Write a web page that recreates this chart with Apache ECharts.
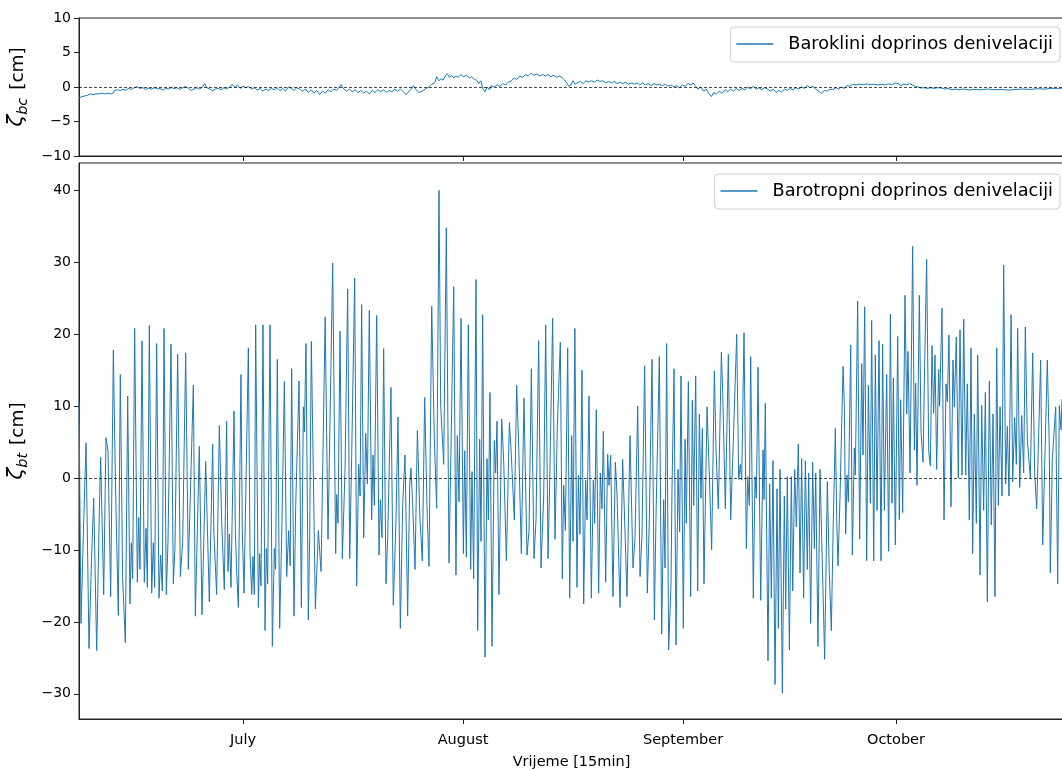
<!DOCTYPE html>
<html><head><meta charset="utf-8">
<script src="https://cdn.jsdelivr.net/npm/echarts@6/dist/echarts.min.js"></script>
<style>html,body{margin:0;padding:0;background:#fff}#c{width:1062px;height:769px}</style>
</head><body><div id="c"></div>
<script>
// time origin (left edge of plot) and extent, in days
const startDate = [2019, 5, 7, 21, 36];
const spanDays = 138.77;
const monthTickDates = [[2019,6,1],[2019,7,1],[2019,8,1],[2019,9,1]];
const monthLabels = ['July','August','September','October'];
const btTicks = [-30,-20,-10,0,10,20,30,40];
const bcTicks = [-10,-5,0,5,10];
const seriesNames = ['Baroklini doprinos denivelaciji','Barotropni doprinos denivelaciji'];

// baroclinic contribution (days from origin, cm)
const bcDay = [0,0.4,0.8,1.2,1.6,2.0,2.4,2.8,3.2,3.6,4.0,4.4,4.8,5.0,5.4,5.8,6.2,6.6,7.0,7.4,7.8,8.2,8.6,9.0,9.4,9.8,10.2,10.6,11.0,11.4,11.8,12.2,12.6,13.0,13.4,13.8,14.2,14.6,15.0,15.4,15.8,16.2,16.6,17.0,17.4,17.7,18.0,18.4,18.8,19.2,19.6,20.0,20.4,20.8,21.2,21.6,22.0,22.3,22.7,23.1,23.5,23.9,24.3,24.7,25.1,25.5,25.9,26.3,26.7,27.1,27.5,27.9,28.3,28.7,29.1,29.5,29.9,30.3,30.7,31.1,31.5,31.9,32.3,32.7,33.1,33.5,33.9,34.3,34.7,35.1,35.5,35.9,36.3,36.7,36.9,37.3,37.7,38.1,38.5,38.9,39.3,39.7,40.1,40.5,40.9,41.3,41.7,42.1,42.5,42.9,43.3,43.7,44.1,44.5,44.9,45.3,45.7,46.1,46.5,46.8,47.1,47.5,47.9,48.1,48.5,48.9,49.3,49.7,50.1,50.4,50.7,51.0,51.3,51.6,51.9,52.2,52.5,52.8,53.1,53.4,53.8,54.2,54.6,55.0,55.3,55.7,56.0,56.3,56.6,56.9,57.2,57.5,57.8,58.1,58.5,58.9,59.3,59.7,60.1,60.5,60.9,61.3,61.7,62.1,62.5,62.9,63.3,63.7,64.1,64.5,64.9,65.3,65.7,66.1,66.5,66.9,67.3,67.7,68.1,68.4,68.7,69.0,69.3,69.6,69.9,70.2,70.6,71.0,71.4,71.8,72.2,72.6,73.0,73.4,73.8,74.2,74.6,75.0,75.4,75.8,76.2,76.6,77.0,77.4,77.8,78.2,78.6,79.0,79.4,79.8,80.2,80.6,81.0,81.4,81.8,82.2,82.6,83.0,83.4,83.8,84.2,84.6,85.0,85.4,85.8,86.2,86.5,86.9,87.2,87.6,88.0,88.4,88.7,89.1,89.4,89.8,90.2,90.6,91.0,91.4,91.8,92.2,92.6,93.0,93.4,93.8,94.2,94.6,95.0,95.4,95.8,96.2,96.6,97.0,97.4,97.8,98.2,98.6,99.0,99.4,99.8,100.2,100.6,101.0,101.4,101.8,102.2,102.6,103.0,103.4,103.8,104.2,104.6,105.0,105.4,105.8,106.2,106.6,107.0,107.4,107.8,108.2,108.6,109.0,109.5,110.0,110.5,111.0,111.5,112.0,112.5,113.0,113.5,114.0,114.5,115.0,115.4,115.8,116.2,116.6,117.0,117.4,117.8,118.2,118.6,119.0,119.5,120.0,120.5,121.0,121.5,122.0,122.5,123.0,123.5,124.0,124.5,125.0,125.5,126.0,127.0,128.0,129.0,130.0,131.0,132.0,133.0,134.0,135.0,136.0,137.0,138.0,138.77];
const bcVal = [-1.6,-1.4,-1.3,-1.2,-1.0,-1.1,-1.0,-1.0,-0.9,-1.0,-0.9,-1.0,-0.9,-0.5,-0.4,-0.5,-0.35,-0.45,-0.2,-0.35,-0.1,0.05,-0.2,-0.1,-0.35,-0.15,-0.3,-0.1,-0.3,-0.2,-0.45,-0.2,-0.3,-0.05,-0.25,-0.1,-0.35,-0.1,0.1,-0.2,-0.5,-0.3,-0.1,-0.3,0.0,0.5,-0.1,-0.25,-0.55,-0.3,-0.2,-0.4,-0.1,-0.3,0.0,0.35,-0.1,0.3,-0.2,0.1,-0.1,0.05,-0.3,-0.1,-0.45,-0.2,-0.6,-0.3,-0.5,-0.2,-0.4,-0.1,-0.5,-0.2,-0.6,0.0,-0.2,-0.5,-0.1,-0.3,-0.6,-0.3,-0.8,-0.4,-0.9,-0.5,-1.1,-0.6,-0.9,-0.4,-0.7,-0.3,-0.5,0.0,0.35,-0.3,-0.6,-0.3,-0.7,-0.4,-0.8,-0.5,-0.9,-0.6,-1.0,-0.5,-0.8,-0.4,-0.7,-0.4,-0.8,-0.5,-0.7,-0.3,-0.6,-0.3,-0.7,-1.1,-0.6,-0.3,0.2,-0.4,-0.8,-1.0,-0.5,-0.2,0.0,0.4,0.6,1.5,0.9,1.2,1.0,1.6,1.9,1.4,1.7,1.3,1.6,1.4,1.8,1.5,1.7,1.3,1.5,1.1,1.0,0.5,0.9,-0.2,-0.7,0.0,-0.4,0.2,0.0,0.3,0.1,0.5,0.3,0.7,0.9,1.3,1.1,1.6,1.4,1.8,1.6,2.0,1.7,1.9,1.6,1.8,1.6,1.8,1.5,1.7,1.4,1.6,1.3,1.0,0.6,0.1,0.3,0.9,0.4,0.6,0.8,0.5,0.9,0.7,0.9,0.7,1.0,0.8,0.9,0.6,0.8,0.6,0.8,0.5,0.7,0.5,0.7,0.4,0.6,0.4,0.6,0.3,0.6,0.3,0.5,0.2,0.5,0.3,0.4,0.2,0.4,0.1,0.3,0.0,0.2,-0.1,0.3,0.1,0.5,0.3,0.6,0.1,-0.3,0.0,-0.6,-0.3,-0.9,-1.4,-0.8,-1.0,-0.6,-0.9,-0.4,-0.7,-0.3,-0.6,-0.2,-0.5,-0.2,-0.4,0.0,-0.3,0.1,-0.3,-0.1,-0.4,-0.1,-0.3,-0.6,-0.3,-0.8,-0.5,-0.7,-0.3,-0.5,-0.2,-0.4,-0.1,-0.3,0.0,-0.2,0.2,-0.1,0.1,-0.3,-0.6,-0.9,-0.5,-0.6,-0.3,-0.4,-0.1,-0.3,0.0,-0.2,0.2,0.1,0.4,0.3,0.4,0.35,0.45,0.35,0.4,0.3,0.4,0.3,0.45,0.35,0.6,0.5,0.2,0.4,0.3,0.5,0.3,0.1,0.0,-0.15,-0.1,-0.2,-0.1,-0.2,-0.1,-0.15,-0.3,-0.2,-0.4,-0.3,-0.4,-0.3,-0.35,-0.45,-0.35,-0.4,-0.3,-0.4,-0.35,-0.45,-0.35,-0.3,-0.35,-0.25,-0.3,-0.2,-0.2,-0.15];

// barotropic contribution (days from origin, cm), extrema
const btDay = [0,0.28,0.61,0.99,1.41,1.74,2.07,2.49,2.86,3.05,3.48,3.8,4.09,4.46,4.84,5.12,5.54,5.82,6.15,6.53,6.86,7.18,7.37,7.56,7.84,8.22,8.41,8.59,8.88,9.2,9.44,9.63,9.91,10.24,10.47,10.66,10.94,11.27,11.5,11.74,11.98,12.3,12.54,12.96,13.29,13.52,13.9,14.28,14.61,15.03,15.4,16.11,16.39,16.95,
17.33,17.85,18.36,18.83,19.0,19.39,19.77,20.1,20.47,20.8,20.99,21.18,21.41,21.84,22.03,22.21,22.45,22.82,23.01,23.25,23.86,24.09,24.33,24.51,24.7,24.89,25.27,25.45,25.64,25.92,26.21,26.39,26.58,26.91,27.24,27.52,27.7,27.94,28.27,28.6,28.93,29.26,29.54,29.75,29.96,30.29,30.53,31.0,31.33,31.61,31.75,31.98,32.31,32.5,32.73,33.3,33.72,34.1,34.68,
35.08,35.74,36.16,36.3,36.49,36.77,37.1,37.48,37.85,38.14,38.42,38.84,39.12,39.4,39.6,39.82,40.11,40.39,40.63,40.9,41.23,41.42,41.61,41.94,42.27,42.45,42.69,42.92,43.25,43.49,43.95,44.28,44.66,44.94,45.27,45.6,45.93,46.3,46.59,46.77,46.99,47.34,47.67,48.04,48.37,48.7,49.07,49.31,49.69,50.06,50.39,50.72,50.96,51.38,51.75,
52.13,52.4,52.79,53.11,53.3,53.54,53.82,54.15,54.34,54.57,54.85,55.18,55.37,55.6,55.93,56.17,56.45,56.64,56.87,57.2,57.48,57.67,57.9,58.19,58.51,58.7,58.89,59.17,59.55,59.83,60.21,60.63,60.86,61.33,61.66,61.94,62.32,62.69,62.88,63.12,63.4,63.73,64.1,64.39,64.76,65.09,65.47,65.75,66.08,66.31,66.73,67.06,67.39,67.81,68.09,68.28,68.52,68.85,69.13,69.41,69.6,69.86,
70.16,70.35,70.58,70.86,71.1,71.38,71.57,71.85,72.18,72.46,72.65,72.88,73.21,73.45,73.68,73.87,74.2,74.48,74.67,74.9,75.23,75.56,75.8,76.22,76.59,76.92,77.2,77.63,78.05,78.33,78.71,79.04,79.32,79.69,80.07,80.35,80.73,81.06,81.29,81.76,82.09,82.37,82.56,82.79,83.07,83.4,83.54,83.83,84.11,84.39,84.62,84.81,85.14,85.38,85.56,85.85,86.17,86.41,86.6,86.88,87.16,87.4,
87.63,87.82,88.05,88.29,88.48,88.76,89.13,89.51,89.74,90.07,90.5,90.68,91.06,91.48,91.81,92.09,92.66,92.94,93.17,93.36,93.69,94.02,94.21,94.44,94.63,95.0,95.24,95.43,95.66,96.04,96.37,96.51,96.69,97.07,97.3,97.54,97.77,98.06,98.34,98.53,98.76,99.09,99.37,99.56,99.79,100.08,100.36,100.55,100.83,101.06,101.34,101.58,101.81,102.09,102.33,102.61,102.8,103.08,103.36,103.6,103.79,104.11,104.4,104.63,104.82,105.05,
105.43,105.7,105.99,106.27,106.56,106.74,106.93,107.21,107.64,107.82,108.01,108.2,108.39,108.72,108.95,109.23,109.37,109.7,109.98,110.27,110.45,110.69,110.97,111.21,111.49,111.67,111.96,112.19,112.43,112.71,112.99,113.22,113.46,113.79,114.07,114.31,114.54,114.73,115.01,115.34,115.57,115.76,116.04,116.37,116.61,116.79,117.08,117.45,117.69,117.87,118.06,118.39,118.63,118.91,119.14,119.42,119.71,119.94,120.18,120.4,120.6,120.83,121.11,121.25,121.58,121.87,122.15,122.33,122.57,
122.85,123.13,123.32,123.6,123.88,124.12,124.4,124.64,124.92,125.15,125.43,125.67,125.9,126.14,126.42,126.61,126.94,127.17,127.45,127.69,127.97,128.25,128.53,128.77,129.05,129.29,129.52,129.76,130.04,130.27,130.55,130.79,131.02,131.31,131.54,131.82,132.06,132.24,132.53,132.81,133.09,133.32,133.61,134.03,134.36,134.64,134.92,135.48,135.77,136.42,136.7,136.84,137.13,137.6,137.88,138.11,138.35,138.5];
const btVal = [10.6,-20.2,-8.0,4.9,-23.7,-12,-2.8,-24,-4.8,2.9,-16.2,5.6,3.7,-16.5,17.8,0.2,-19.1,14.4,-14,-22.9,11.4,-17.5,-9,-14,20.8,-14.5,-5.5,-12.7,19.1,-14.5,-7,-15.2,21.2,-16,-9,-15.2,18.7,-16.7,-10.7,-15.7,20.8,-16.2,-8.8,18.6,-14.7,-9.8,17.2,-13.7,-8.8,17.4,-12.7,12.9,-19.2,4.4,
-19,2.3,-17.2,4.7,-7.5,-16.2,7.3,-6,-15.5,7.9,-13,-7.8,-15.2,9.3,-7.2,-13,-18,14.4,-7.5,-16,18.1,-10.2,-16.2,-10.9,-16.2,21.3,-18,-10.5,-15,21.3,-21.2,-9.8,-14.7,21.3,-23.4,-9.8,-12.7,16.5,-20.9,-6,13.4,-13.7,-7.3,-12.2,15.2,-19.2,-3.8,13.5,-18,9.9,6.4,18.7,-19.7,-8.3,19,-18.2,-7.3,-13,22.4,
-8.5,29.9,-10.5,-2.3,-6.3,20.4,-11.2,1.2,26.3,-11.2,3.3,27.8,-15,1.9,-2.5,24.1,-8.3,6.2,-0.8,23.3,-5.8,3.2,-3.8,22.6,-10.7,-3,-8.3,18,-14.7,-8.3,12.6,-17.7,-5.8,8.5,-20.9,-3.8,3.2,-19.2,-1,1.4,-3.3,-12.7,6.6,-5.8,-11.5,11.2,-5.8,-12.3,23.9,5.4,-4.2,40,10,1.9,34.8,
-11.8,3.6,26.6,-13.5,5.9,-3.3,22.2,-10.5,3.8,-11,21.3,-12.7,0.9,-14,27.6,-21.2,5.4,-8.8,22.7,-24.9,2.7,-5.8,11.9,-23.4,5.2,0.7,7.9,-16.2,8.2,2.4,-11.5,7.7,4.2,-5.8,12.9,4.7,-10.5,11.1,1.2,-10.7,-7.3,15.2,-11.2,-5.8,19.1,-12.5,-2.5,21.3,-11.2,-0.8,22.2,-8.5,7.2,18.9,-14,-1,-7.3,18.1,-16.7,5.9,-8.8,20.8,
-15.2,0.4,-7.8,15,-17.5,-0.3,-5.8,11.4,-16.7,-0.3,-6.3,9.5,-16,0.7,-4.3,6.5,-14.5,3.3,-1,3.2,-16.5,2.2,-2.3,-18,2.6,-7.3,-16.5,5.9,-12.5,-8.3,10,-13.7,-7.8,15.6,-16,-5.8,16.5,-19.7,-5.3,16.9,-21.7,-3,-12.5,18.7,-23.9,-14.9,-1.8,15.2,-23.2,1.2,-7.5,14.2,-20.9,5.4,-6.3,13.4,-16.5,10.8,-3.8,14.2,-15.7,8.9,
-2.8,6.9,-14.7,-0.8,9.9,1.7,-10,14.9,4.2,-4.3,17.5,12.2,-4.3,17.2,-5.8,2.4,20,-0.2,1.9,-0.3,20.2,-9.8,0.2,-3.8,16.9,-16.7,0.2,-2.8,15.4,-17,3.9,-3,10.4,-25.4,-0.8,-16.7,2.4,-28.7,-1.5,-20.9,1.2,-29.9,-2.5,-18.2,0.2,-23.9,0.2,-15.7,1.2,-6.8,4.7,-13.2,2.7,-16.7,2.4,-12.7,0.7,-20.2,2.2,-9.8,0.7,-23.4,1.2,-8.3,-15.7,-25.2,
-0.5,-13,-21.2,-5.8,6.9,-5.3,-12.2,-2.8,15.5,10.2,-7.8,0.4,-3.3,18.5,-10.7,4.2,0.4,24.6,-8.5,15.9,3.2,23.8,-11.5,12.9,-3.5,21.9,-11.5,17.1,-4.5,19.1,-11.5,18.6,-4.5,14.4,-10.2,22.8,-3.5,13.9,-9.3,19.7,-5.8,10.9,-4.8,25.4,8.9,17.6,0.7,32.2,3.9,13.2,-1,25.4,6.4,2.2,15.9,30.4,3.7,1.7,18.4,9,17.1,1.2,15.1,10,23.6,-5.8,13.1,10.6,19.9,
-4,16.4,9.9,19.6,0,20.6,0.4,22.1,0.4,13.1,-5.8,18.1,-10.5,8.9,-6.3,17.1,-13.5,10.1,-4.5,11.9,-17.2,13.5,-6.5,8.9,-16.5,18.1,-3.8,9.9,-2.5,29.6,-0.8,7.2,-2.5,22.7,-0.5,8.4,1.9,20.8,-1.3,8.7,0.7,21,5.2,0,17.4,0.7,-4.3,16.4,-9.3,16.4,4.2,-13.2,2.7,9.9,-14.7,10.1,6.7,11];

const DAY = 86400000;
const t0 = Date.UTC(...startDate);
// month boundaries expressed in days from origin
const monthTicks = monthTickDates.map(a => (Date.UTC(a[0], a[1], a[2]) - t0) / DAY);
const bcData = bcDay.map((d, i) => [d, bcVal[i]]);
const btData = btDay.map((d, i) => [d, btVal[i]]);

const FONT = 'DejaVu Sans';
const BLUE = '#1f77b4';
const AX = '#222';

function monthLabel(v) {
  let best = 0;
  for (let i = 1; i < monthTicks.length; i++) if (Math.abs(monthTicks[i] - v) < Math.abs(monthTicks[best] - v)) best = i;
  return monthLabels[best];
}

function xAxisCfg(gridIndex, showLabels) {
  return {
    type: 'value', gridIndex, min: 0, max: spanDays,
    splitLine: {show: false},
    axisLine: {show: true, onZero: false, lineStyle: {color: AX, width: 1}},
    axisTick: {show: true, length: 5, lineStyle: {color: AX, width: 1}, customValues: monthTicks},
    axisLabel: {show: showLabels, customValues: monthTicks, color: '#000', fontFamily: FONT, fontSize: 14.5, margin: 14,
      formatter: v => monthLabel(v)},
    name: showLabels ? 'Vrijeme [15min]' : '', nameLocation: 'middle', nameGap: 36,
    nameTextStyle: {color: '#000', fontFamily: FONT, fontSize: 14.5}
  };
}
function yAxisCfg(gridIndex, min, max, ticks, sub) {
  return {
    type: 'value', gridIndex, min, max,
    splitLine: {show: false},
    axisLine: {show: true, onZero: false, lineStyle: {color: AX, width: 1}},
    axisTick: {show: true, length: 5, lineStyle: {color: AX, width: 1}, customValues: ticks},
    axisLabel: {customValues: ticks, color: '#000', fontFamily: FONT, fontSize: 14, margin: 8,
      formatter: v => (v < 0 ? '\u2212' + Math.abs(v) : String(v))},
    name: '{i|\u03b6}{s|' + sub + '}{n| [cm]}', nameLocation: 'middle', nameGap: 45, nameRotate: 90,
    nameTextStyle: {color: '#000', fontFamily: FONT, fontSize: 18.5,
      rich: {
        i: {fontFamily: FONT, fontStyle: 'italic', fontSize: 22, color: '#000', verticalAlign: 'top', lineHeight: 27},
        s: {fontFamily: FONT, fontStyle: 'italic', fontSize: 14.5, color: '#000', verticalAlign: 'top', lineHeight: 27, padding: [10, 2, 0, 0]},
        n: {fontFamily: FONT, fontSize: 18.5, color: '#000', verticalAlign: 'top', lineHeight: 27, padding: [3, 0, 0, 0]}
      }}
  };
}
const zeroLine = {silent: true, symbol: 'none', label: {show: false},
  lineStyle: {color: '#000', type: [3, 2], width: 0.7}, data: [{yAxis: 0}], animation: false};

function legendCfg(name, top) {
  return {
    data: [name], right: 2, top, orient: 'horizontal',
    icon: 'rect', itemWidth: 37, itemHeight: 1.3, itemGap: 0,
    padding: [8, 7, 9, 6],
    backgroundColor: 'rgba(255,255,255,0.8)', borderColor: '#d0d0d0', borderWidth: 1, borderRadius: 4,
    textStyle: {color: '#000', fontFamily: FONT, fontSize: 17.7, padding: [0, 0, 0, 10]},
    selectedMode: false
  };
}

const chart = echarts.init(document.getElementById('c'), null, {renderer: 'canvas'});
chart.setOption({
  animation: false,
  backgroundColor: '#fff',
  grid: [
    {left: 79, right: -2, top: 18, height: 138, show: true, borderColor: AX, borderWidth: 1, backgroundColor: 'transparent',
      containLabel: false, outerBoundsMode: 'none'},
    {left: 79, right: -2, top: 163, bottom: 50, show: true, borderColor: AX, borderWidth: 1, backgroundColor: 'transparent',
      containLabel: false, outerBoundsMode: 'none'}
  ],
  xAxis: [xAxisCfg(0, false), xAxisCfg(1, true)],
  yAxis: [yAxisCfg(0, -10, 10, bcTicks, 'bc'), yAxisCfg(1, -33.5, 43.8, btTicks, 'bt')],
  legend: [legendCfg(seriesNames[0], 27), legendCfg(seriesNames[1], 174)],
  series: [
    {name: seriesNames[0], type: 'line', xAxisIndex: 0, yAxisIndex: 0, data: bcData, showSymbol: false, symbol: 'none',
      lineStyle: {color: BLUE, width: 1}, itemStyle: {color: BLUE}, markLine: zeroLine, z: 3},
    {name: seriesNames[1], type: 'line', xAxisIndex: 1, yAxisIndex: 1, data: btData, showSymbol: false, symbol: 'none',
      lineStyle: {color: BLUE, width: 1}, itemStyle: {color: BLUE}, markLine: zeroLine, z: 3}
  ]
});
</script></body></html>
